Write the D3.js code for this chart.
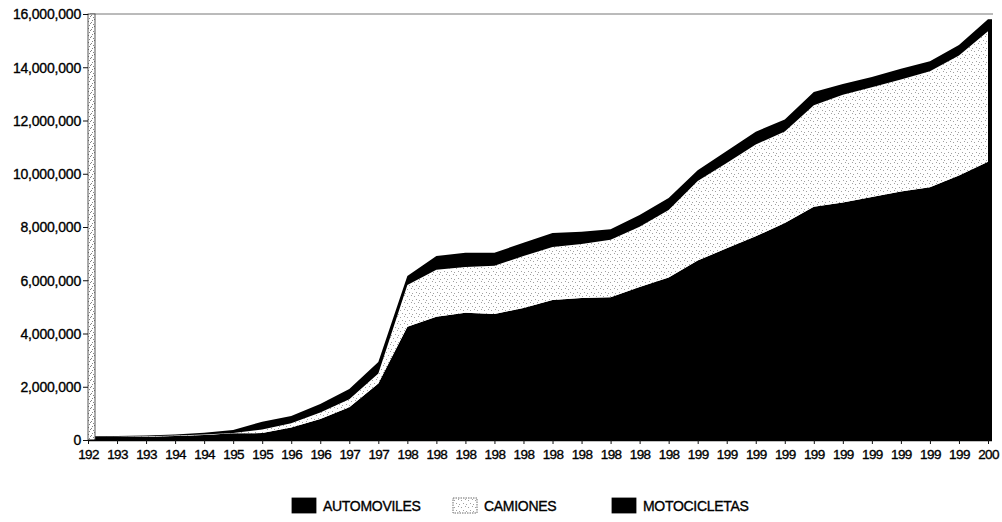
<!DOCTYPE html>
<html>
<head>
<meta charset="utf-8">
<script src="https://cdn.jsdelivr.net/npm/d3@7"></script>
<style>
  html, body { margin: 0; padding: 0; background: #fff; }
  svg { display: block; font-family: "Liberation Sans", Arial, sans-serif; }
  .tick text, .legend-text { fill: #000; stroke: #000; stroke-width: 0.35px; }
</style>
</head>
<body>
<div id="chart"></div>
<script>
// categories (first ones every 5 years, then yearly)
const years = [1925, 1930, 1935, 1940, 1945, 1950, 1955, 1960, 1965, 1970, 1975,
    1980, 1981, 1982, 1983, 1984, 1985, 1986, 1987, 1988, 1989,
    1990, 1991, 1992, 1993, 1994, 1995, 1996, 1997, 1998, 1999, 2000];

// vehicles, thousands
const automoviles = [110, 110, 125, 150, 190, 250, 260, 470, 790, 1230, 2120,
    4250, 4630, 4780, 4730, 4960, 5260, 5330, 5360, 5750, 6100,
    6740, 7200, 7650, 8150, 8760, 8920, 9130, 9330, 9490, 9930, 10450];
const camiones = [10, 10, 12, 15, 18, 15, 130, 160, 240, 300, 380,
    1570, 1760, 1720, 1810, 1950, 1990, 2030, 2160, 2260, 2540,
    2990, 3200, 3450, 3440, 3810, 4050, 4120, 4210, 4360, 4510, 4900];
const motocicletas = [30, 30, 33, 45, 62, 115, 300, 270, 320, 390, 430,
    340, 520, 530, 490, 500, 520, 460, 400, 440, 450,
    400, 450, 480, 450, 500, 400, 380, 400, 380, 400, 450];

const seriesNames = ["AUTOMOVILES", "CAMIONES", "MOTOCICLETAS"];
const yTicks = [0, 2e6, 4e6, 6e6, 8e6, 10e6, 12e6, 14e6, 16e6];

const width = 1002, height = 522;
const plotLeft = 88, plotRight = 988, plotTop = 14, plotBottom = 440;

const rows = years.map((yr, i) => ({
    year: yr,
    AUTOMOVILES: automoviles[i] * 1000,
    CAMIONES: camiones[i] * 1000,
    MOTOCICLETAS: motocicletas[i] * 1000
}));

const svg = d3.select("#chart").append("svg")
    .attr("width", width)
    .attr("height", height);

// stipple textures (camiones, and a denser one for the axis band)
const defs = svg.append("defs");
function makeStipple(id, dots, color) {
    const pat = defs.append("pattern")
        .attr("id", id)
        .attr("patternUnits", "userSpaceOnUse")
        .attr("width", 7).attr("height", 7);
    pat.append("rect").attr("width", 7).attr("height", 7).attr("fill", "#fff");
    dots.forEach(p => {
        pat.append("rect").attr("x", p[0]).attr("y", p[1])
            .attr("width", 0.9).attr("height", 0.9).attr("fill", color);
    });
}
makeStipple("stipple", [[1, 2], [5, 1], [3, 5], [6, 6]], "#8a8a8a");
makeStipple("stippleDark", [[0, 1], [2, 3], [4, 0], [5, 4], [1, 6], [3, 5], [6, 2]], "#666");

const x = d3.scalePoint().domain(years).range([plotLeft, plotRight]);
const y = d3.scaleLinear().domain([0, 16e6]).range([plotBottom, plotTop]);

const stack = d3.stack().keys(seriesNames);
const layers = stack(rows);
const fills = { AUTOMOVILES: "#000", CAMIONES: "url(#stipple)", MOTOCICLETAS: "#000" };

const area = d3.area()
    .x(d => x(d.data.year))
    .y0(d => y(d[0]))
    .y1(d => y(d[1]));

svg.append("g")
    .selectAll("path")
    .data(layers)
    .join("path")
    .attr("fill", d => fills[d.key])
    .attr("d", area);

// top frame line
svg.append("line")
    .attr("x1", plotLeft + 2).attr("x2", plotRight + 5)
    .attr("y1", plotTop).attr("y2", plotTop)
    .attr("stroke", "#777").attr("stroke-width", 1);

// left stippled band (y axis)
svg.append("rect")
    .attr("x", plotLeft).attr("y", plotTop)
    .attr("width", 7).attr("height", plotBottom - plotTop)
    .attr("fill", "url(#stippleDark)")
    .attr("stroke", "#444").attr("stroke-width", 0.9);

// right edge of the stack
const last = rows[rows.length - 1];
svg.append("line")
    .attr("x1", x(last.year) + 2).attr("x2", x(last.year) + 2)
    .attr("y1", y(last.AUTOMOVILES + last.CAMIONES + last.MOTOCICLETAS))
    .attr("y2", plotBottom)
    .attr("stroke", "#000").attr("stroke-width", 4);

// y axis
const yAxis = svg.append("g")
    .attr("transform", `translate(${plotLeft},0)`)
    .call(d3.axisLeft(y).tickValues(yTicks).tickFormat(d3.format(",")).tickSize(5).tickPadding(2));
yAxis.select(".domain").remove();
yAxis.selectAll("text").style("font-size", "14px").style("letter-spacing", "-0.2px").attr("dy", "0.34em");
yAxis.selectAll("line").attr("stroke", "#111");

// x axis
const xAxis = svg.append("g")
    .attr("transform", `translate(0,${plotBottom})`)
    .call(d3.axisBottom(x).tickSize(4).tickPadding(5).tickFormat(d => String(d).slice(0, 3)));
xAxis.select(".domain").attr("stroke", "#000").attr("stroke-width", 1.5)
    .attr("d", `M${plotLeft},0.5H${plotRight + 4}`);
xAxis.selectAll("text").style("font-size", "13.5px").style("letter-spacing", "-0.6px");
xAxis.selectAll("line").attr("stroke", "#111");

// legend
const legendX = [292, 453, 612];
const legend = svg.append("g")
    .selectAll("g")
    .data(seriesNames)
    .join("g")
    .attr("transform", (d, i) => `translate(${legendX[i]},498)`);

legend.append("rect")
    .attr("width", 24).attr("height", 15)
    .attr("fill", d => fills[d])
    .attr("stroke", d => d === "CAMIONES" ? "#444" : "#000")
    .attr("stroke-dasharray", d => d === "CAMIONES" ? "1.5,1" : null)
    .attr("stroke-width", 0.8);

legend.append("text")
    .attr("class", "legend-text")
    .attr("x", 31).attr("y", 13)
    .style("font-size", "14px")
    .style("letter-spacing", "-0.3px")
    .text(d => d);
</script>
</body>
</html>
